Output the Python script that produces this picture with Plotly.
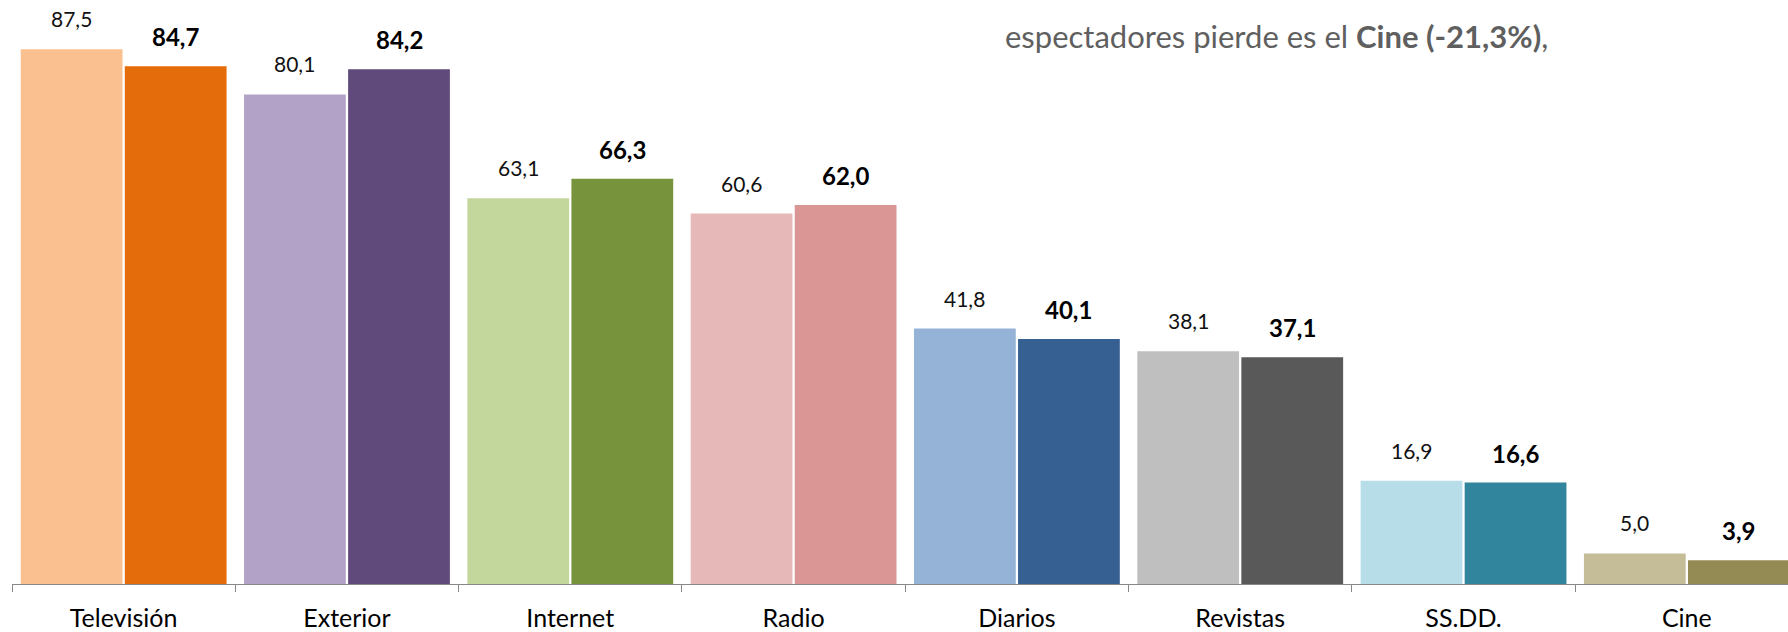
import plotly.graph_objects as go

categories = ["Televisión", "Exterior", "Internet", "Radio", "Diarios", "Revistas", "SS.DD.", "Cine"]
prev_values = [87.5, 80.1, 63.1, 60.6, 41.8, 38.1, 16.9, 5.0]
curr_values = [84.7, 84.2, 66.3, 62.0, 40.1, 37.1, 16.6, 3.9]

light_colors = ["#FAC090", "#B3A2C7", "#C3D69B", "#E6B9B8", "#95B3D7", "#BFBFBF", "#B7DEE8", "#C4BD97"]
dark_colors = ["#E46C0A", "#604A7B", "#77933C", "#D99694", "#376092", "#595959", "#31859C", "#948A54"]

prev_labels = [f"{v:.1f}".replace(".", ",") for v in prev_values]
curr_labels = [f"{v:.1f}".replace(".", ",") for v in curr_values]

bargap = 0.068
font = "Lato, Calibri, sans-serif"

fig = go.Figure()

fig.add_trace(go.Bar(
    x=categories, y=prev_values,
    marker=dict(color=light_colors, line=dict(width=0)),
    hoverinfo="skip", showlegend=False
))
fig.add_trace(go.Bar(
    x=categories, y=curr_values,
    marker=dict(color=dark_colors, line=dict(width=0)),
    hoverinfo="skip", showlegend=False
))

# value labels above each bar
offset = (1 - bargap) / 4
for i in range(len(categories)):
    fig.add_annotation(
        x=i - offset, y=prev_values[i], text=prev_labels[i],
        showarrow=False, yanchor="bottom", yshift=16,
        font=dict(family=font, size=21, color="#111111")
    )
    fig.add_annotation(
        x=i + offset, y=curr_values[i], text="<b>" + curr_labels[i] + "</b>",
        showarrow=False, yanchor="bottom", yshift=13,
        font=dict(family=font, size=24, color="#000000")
    )

# fragment of the surrounding text
fig.add_annotation(
    xref="paper", yref="paper", x=0.558, y=0.938,
    xanchor="left", yanchor="middle", showarrow=False,
    text="espectadores pierde es el <b>Cine (-21,3%)</b>,",
    font=dict(family=font, size=31, color="#5F5F5F")
)

fig.update_layout(
    width=1788, height=632,
    margin=dict(l=12, r=0, t=0, b=46),
    paper_bgcolor="white", plot_bgcolor="white",
    barmode="group", bargap=bargap, bargroupgap=0.022,
    font=dict(family=font, size=25, color="#000000"),
)
fig.update_xaxes(
    type="category", range=[-0.5, 7.453],
    showline=True, linecolor="#888888", linewidth=1,
    ticks="outside", tickson="boundaries", ticklen=7, tickcolor="#888888",
    tickfont=dict(family=font, size=25, color="#000000"),
    ticklabelstandoff=12,
    showgrid=False, zeroline=False
)
fig.update_yaxes(
    range=[0, 95.55], visible=False, showgrid=False, zeroline=False
)

fig.write_html(
    "out.html",
    config={"displayModeBar": False},
    post_script="document.body.style.margin='0px';"
)
